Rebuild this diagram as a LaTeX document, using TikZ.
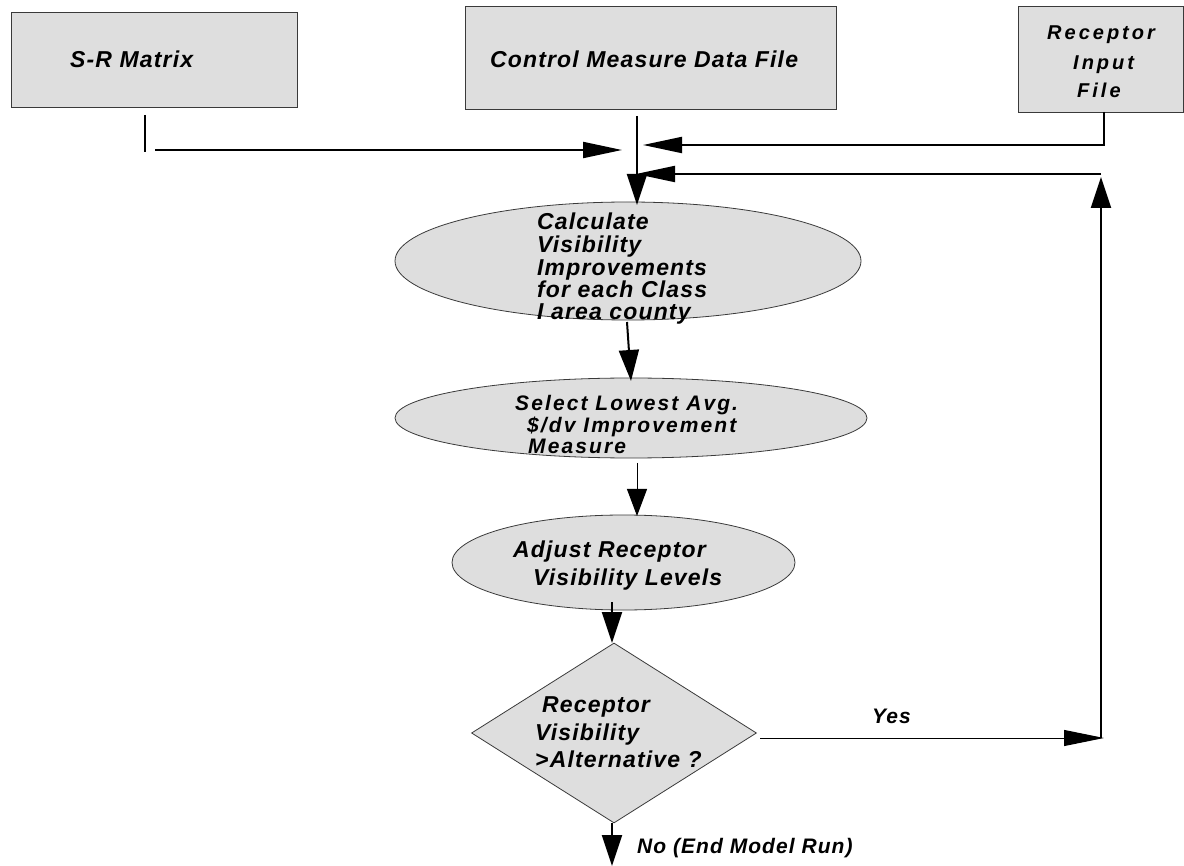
\documentclass[tikz,border=0pt]{standalone}
\usepackage{fontspec}
\setmainfont{Liberation Sans}[LetterSpace=5]
\usetikzlibrary{arrows.meta,shapes.geometric}

\definecolor{boxfill}{HTML}{DEDEDE}
\definecolor{boxline}{HTML}{3A3A3A}

\tikzset{
  shapebase/.style={draw=boxline, fill=boxfill, line width=0.8pt, inner sep=0pt},
  filebox/.style={shapebase, rectangle},
  procell/.style={shapebase, ellipse},
  decide/.style={shapebase, diamond},
  txt/.style={anchor=base west, inner sep=0pt, text=black,
    font=\fontsize{23}{26}\selectfont\bfseries\itshape},
  tighttxt/.style={txt, font=\fontsize{21}{24}\selectfont\bfseries\itshape\addfontfeature{LetterSpace=10}},
  smalltxt/.style={txt, font=\fontsize{20}{24}\selectfont\bfseries\itshape\addfontfeature{LetterSpace=15}},
  heavy/.style={line width=2pt},
  varrow/.style={heavy, -{Triangle[length=31pt,width=20pt]}},
  harrow/.style={heavy, -{Triangle[length=39pt,width=16pt]}},
  thinarrow/.style={line width=1pt, -{Triangle[length=27pt,width=20pt]}},
  thinharrow/.style={line width=1pt, -{Triangle[length=40pt,width=16pt]}},
}

\begin{document}
\begin{tikzpicture}[x=1pt,y=-1pt]
\useasboundingbox (0,0) rectangle (1184,866);

% --- input files ---
\node[filebox, minimum width=286, minimum height=95] (sr) at (154,59.5) {};
\node[filebox, minimum width=371, minimum height=103] (cm) at (650.5,57.5) {};
\node[filebox, minimum width=165, minimum height=106] (ri) at (1100.5,59) {};

\node[txt] (srT) at (70,68) {S-R Matrix};
\node[txt] (cmT) at (490,68) {Control Measure Data File};
\node[smalltxt] (riT1) at (1047,40) {Receptor};
\node[smalltxt] (riT2) at (1073,70) {Input};
\node[smalltxt] (riT3) at (1077,98) {File};

% --- process steps ---
\node[procell, minimum width=466, minimum height=118] (calc) at (628,261) {};
\node[txt] (calcT1) at (537,230) {Calculate};
\node[txt] (calcT2) at (537,253) {Visibility};
\node[txt] (calcT3) at (537,276) {Improvements};
\node[txt] (calcT4) at (537,298) {for each Class};
\node[txt] (calcT5) at (537,320) {I area county};

\node[procell, minimum width=472, minimum height=80] (sel) at (631,418) {};
\node[tighttxt] (selT1) at (515,411) {Select Lowest Avg.};
\node[tighttxt] (selT2) at (527,432.5) {\$/dv Improvement};
\node[tighttxt] (selT3) at (528,454) {Measure};

\node[procell, minimum width=343, minimum height=95] (adj) at (623.5,562.5) {};
\node[txt] (adjT1) at (513,557) {Adjust Receptor};
\node[txt] (adjT2) at (533,585) {Visibility Levels};

\node[decide, minimum width=285, minimum height=180] (dec) at (614,733) {};
\node[txt] (decT1) at (542,712) {Receptor};
\node[txt] (decT2) at (535,740) {Visibility};
\node[txt] (decT3) at (535,767) {>Alternative ?};

\node[txt, font=\fontsize{21}{24}\selectfont\bfseries\itshape] (yesT) at (872,723) {Yes};
\node[txt, font=\fontsize{21}{24}\selectfont\bfseries\itshape] (noT) at (637,853) {No (End Model Run)};

% --- junction points ---
\coordinate (srA) at (145,115);
\coordinate (srB) at (145,152);
\coordinate (srC) at (155,150);
\coordinate (jSR) at (622,150);
\coordinate (cmOut) at (637,116);
\coordinate (calcIn) at (637,205);
\coordinate (riOut) at (1104,112);
\coordinate (jRI) at (643,145);
\coordinate (loopBot) at (1101,738);
\coordinate (loopTop) at (1101,177);
\coordinate (loopCorner) at (1101,174);
\coordinate (jLoop) at (636,174);
\coordinate (calcOut) at (627,322);
\coordinate (selIn) at (631,381);
\coordinate (selOut) at (637,463);
\coordinate (adjIn) at (637,516);
\coordinate (adjOut) at (612,602);
\coordinate (decIn) at (612,643);
\coordinate (decOut) at (612,823);
\coordinate (endRun) at (612,866);
\coordinate (decYes) at (760,738);
\coordinate (yesEnd) at (1104,738);

% --- connectors ---
\draw[heavy] (srA) -- (srB);
\draw[harrow] (srC) -- (jSR);
\draw[varrow] (cmOut) -- (calcIn);
\draw[harrow] (riOut) |- (jRI);
\draw[varrow] (loopBot) -- (loopTop);
\draw[harrow] (loopCorner) -- (jLoop);
\draw[varrow] (calcOut) -- (selIn);
\draw[thinarrow] (selOut) -- (adjIn);
\draw[varrow] (adjOut) -- (decIn);
\draw[varrow] (decOut) -- (endRun);
\draw[thinharrow] (decYes) -- (yesEnd);
\end{tikzpicture}
\end{document}
